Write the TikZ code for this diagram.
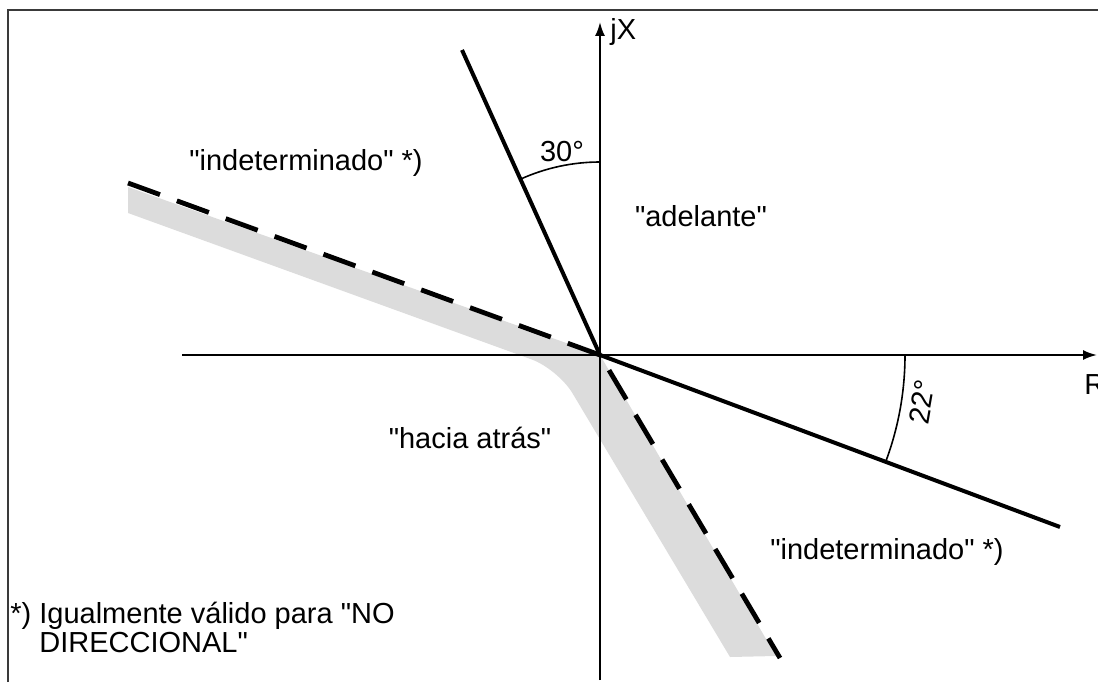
\documentclass[tikz,border=0pt]{standalone}
\usepackage{fontspec}
\setmainfont{Liberation Sans}[Ligatures=TeXOff]
\usetikzlibrary{arrows.meta}
\definecolor{band}{HTML}{DCDCDC}
\definecolor{frm}{HTML}{3A3A3A}
\tikzset{
  axis/.style={line width=1pt,-{Latex[length=7pt,width=5pt]}},
  ray/.style={line width=2pt},
  dashln/.style={line width=2.4pt,dash pattern=on 17pt off 9pt},
  angarc/.style={line width=0.8pt},
  lbl/.style={font=\fontsize{14.5}{14.5}\selectfont,inner sep=0pt},
}
\begin{document}
\begin{tikzpicture}[x=0.5pt,y=0.5pt]
\useasboundingbox (0,0) rectangle (1098,682);
% frame
\draw[frm,line width=1pt] (8,0) -- (8,672) -- (1098,672);
\coordinate (O) at (600,327);
\coordinate (yb) at (600,2);
\coordinate (yt) at (600,660);
\coordinate (xl) at (182,327);
\coordinate (xr) at (1097,327);
\coordinate (f30) at (462,632);
\coordinate (f22) at (1060,155);
\coordinate (du) at (128,499);
\coordinate (dl) at (780,24);
% gray band
\fill[band] (128,495) -- (O) -- (776,26) -- (730,25) [rounded corners=14pt] -- (558,313) [sharp corners] -- (128,469) -- cycle;
\draw[dashln] (du) -- (O) -- (dl);
% axes
\draw[axis] (xl) -- (xr);
\draw[axis] (yb) -- (yt);
% limits
\draw[ray] (f30) -- (O);
\draw[ray] (O) -- (f22);
\draw[angarc] (O) ++(90:96.5pt) arc[start angle=90,end angle=114.3,radius=96.5pt];
\draw[angarc] (O) ++(0:152.5pt) arc[start angle=0,end angle=-20.5,radius=152.5pt];
% labels
\node[lbl] (a30) at (562,530) {30°};
\node[lbl,rotate=80] (a22) at (922,280) {22°};
\node[lbl,anchor=west] (jx) at (610,650) {jX};
\node[lbl,anchor=west] (rl) at (1084,297) {R};
\node[lbl] (ind1) at (306,519) {"indeterminado" *)};
\node[lbl] (adel) at (701,466) {"adelante"};
\node[lbl] (hac) at (470,244) {"hacia atrás"};
\node[lbl] (ind2) at (887,130) {"indeterminado" *)};
\node[lbl,anchor=north west,align=left] (nota) at (10,80)
  {*) Igualmente válido para "NO\\\phantom{*) }DIRECCIONAL"};
\end{tikzpicture}
\end{document}
